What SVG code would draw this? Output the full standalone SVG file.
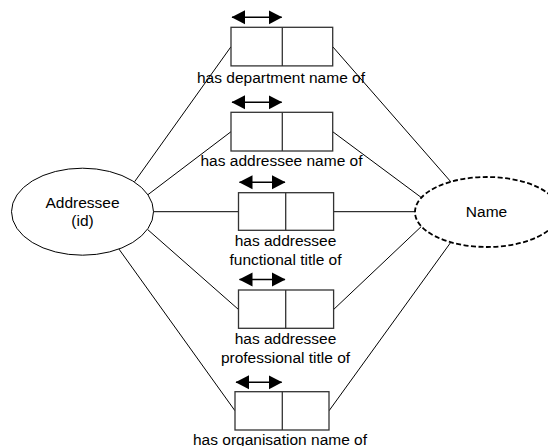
<svg xmlns="http://www.w3.org/2000/svg" width="548" height="446" viewBox="0 0 548 446">
<style>
.box{fill:#fff;stroke:#333;stroke-width:1.3}
.div{stroke:#333;stroke-width:1.3}
.conn{stroke:#000;stroke-width:1;fill:none}
.arr{stroke:#000;stroke-width:1.5;marker-start:url(#ah);marker-end:url(#ah)}
text{font-family:"Liberation Sans",Arial,sans-serif;font-size:15.5px;fill:#000;text-anchor:middle}
.ell{fill:#fff;stroke:#000;stroke-width:1}
.dash{fill:#fff;stroke:#000;stroke-width:1.8;stroke-dasharray:5 2.5}
</style>
<defs>
<marker id="ah" markerUnits="userSpaceOnUse" markerWidth="14" markerHeight="15" refX="13" refY="7.5" orient="auto-start-reverse">
<path d="M0,0.5 L13.5,7.5 L0,14.5 z" fill="#000"/>
</marker>
</defs>
<g id="connectors">
<line class="conn" x1="134.6" y1="181.7" x2="231" y2="46.7"/>
<line class="conn" x1="147.5" y1="195" x2="231" y2="131.7"/>
<line class="conn" x1="153.5" y1="211.7" x2="238.5" y2="211.7"/>
<line class="conn" x1="147.6" y1="229.5" x2="238.5" y2="309.5"/>
<line class="conn" x1="118.9" y1="249" x2="235" y2="410.8"/>
<line class="conn" x1="332.7" y1="46.7" x2="451" y2="182"/>
<line class="conn" x1="332.7" y1="131.7" x2="421.3" y2="197.5"/>
<line class="conn" x1="333.6" y1="211.7" x2="415" y2="211.7"/>
<line class="conn" x1="333.6" y1="309.5" x2="421.3" y2="226.5"/>
<line class="conn" x1="329" y1="410.8" x2="451" y2="242"/>
</g>
<g id="addressee">
<ellipse class="ell" cx="82.5" cy="211.7" rx="71" ry="43.5"/>
<text x="82.5" y="207.5">Addressee</text>
<text x="82.5" y="226">(id)</text>
</g>
<g id="name">
<ellipse class="dash" cx="487" cy="212" rx="72" ry="35"/>
<text x="486.5" y="216.7">Name</text>
</g>
<g id="rel-department">
<line class="arr" x1="232" y1="17.3" x2="281.7" y2="17.3"/>
<rect class="box" x="231" y="27.3" width="101.7" height="38.6"/>
<line class="div" x1="282.3" y1="27.3" x2="282.3" y2="65.9"/>
<text x="281" y="82.5">has department name of</text>
</g>
<g id="rel-addressee-name">
<line class="arr" x1="232" y1="102.3" x2="281.7" y2="102.3"/>
<rect class="box" x="231" y="112.3" width="101.7" height="38.7"/>
<line class="div" x1="282.3" y1="112.3" x2="282.3" y2="151"/>
<text x="281.5" y="166">has addressee name of</text>
</g>
<g id="rel-functional">
<line class="arr" x1="239.5" y1="182.3" x2="285" y2="182.3"/>
<rect class="box" x="238.5" y="192.7" width="95.1" height="37.6"/>
<line class="div" x1="285.7" y1="192.7" x2="285.7" y2="230.3"/>
<text x="285.5" y="245.5">has addressee</text>
<text x="285.5" y="264.5">functional title of</text>
</g>
<g id="rel-professional">
<line class="arr" x1="239.5" y1="279.5" x2="285" y2="279.5"/>
<rect class="box" x="238.5" y="290" width="95.1" height="38.3"/>
<line class="div" x1="285.7" y1="290" x2="285.7" y2="328.3"/>
<text x="285.5" y="343.5">has addressee</text>
<text x="285.5" y="362.5">professional title of</text>
</g>
<g id="rel-organisation">
<line class="arr" x1="236" y1="382.3" x2="281.7" y2="382.3"/>
<rect class="box" x="235" y="391.7" width="94" height="38.3"/>
<line class="div" x1="282.3" y1="391.7" x2="282.3" y2="430"/>
<text x="280" y="445">has organisation name of</text>
</g>
</svg>
